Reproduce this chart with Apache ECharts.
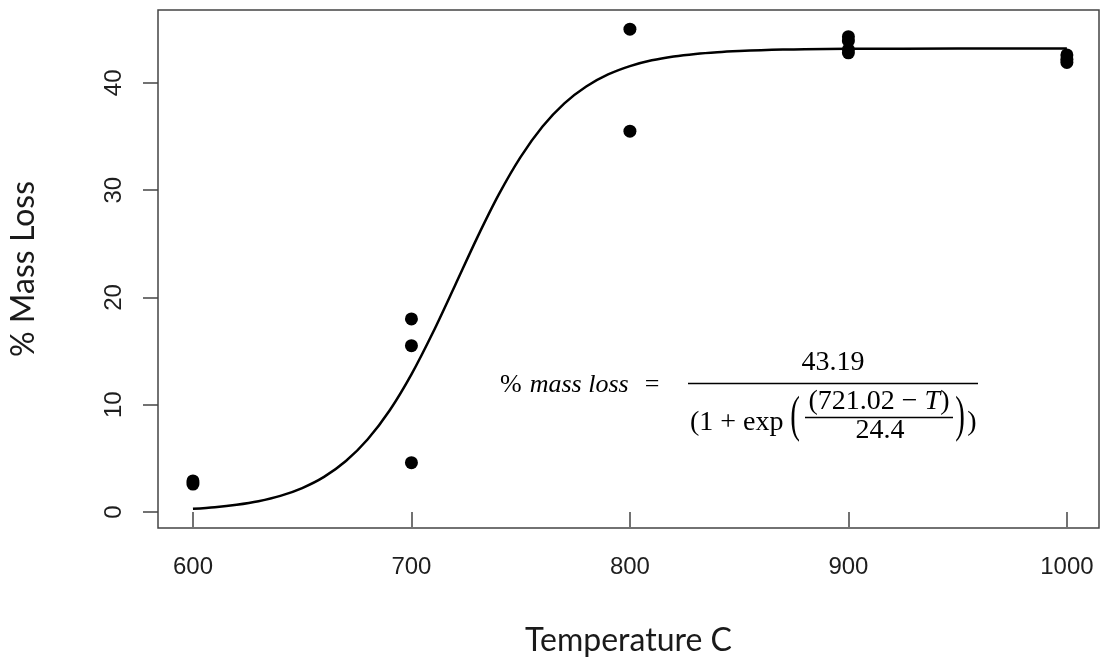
<!DOCTYPE html>
<html>
<head>
<meta charset="utf-8">
<script src="https://cdn.jsdelivr.net/npm/echarts@6/dist/echarts.min.js"></script>
<style>
  html, body { margin: 0; padding: 0; background: #ffffff; }
  #chart { width: 1100px; height: 665px; }
</style>
</head>
<body>
<div id="chart"></div>
<script>
// Measured mass loss (%) of each sample at its calcination temperature (°C)
const sampleTemp = [600, 600, 700, 700, 700, 800, 800, 900, 900, 900, 900, 1000, 1000, 1000];
const sampleLoss = [2.9, 2.6, 18.0, 15.5, 4.6, 45.0, 35.5, 44.3, 43.9, 43.1, 42.8, 42.6, 42.2, 41.9];

// Fitted logistic curve, read at 10 °C steps
const curveTemp = [600, 610, 620, 630, 640, 650, 660, 670, 680, 690, 700, 710, 720, 730, 740,
                   750, 760, 770, 780, 790, 800, 810, 820, 830, 840, 850, 860, 870, 880, 900, 950, 1000];
const curveLoss = [0.30, 0.45, 0.68, 1.01, 1.50, 2.23, 3.27, 4.75, 6.78, 9.46, 12.83, 16.80, 21.14, 25.53, 29.60,
                   33.10, 35.93, 38.09, 39.66, 40.78, 41.56, 42.10, 42.46, 42.70, 42.86, 42.97, 43.05, 43.10, 43.13, 43.17, 43.19, 43.19];

// Tick labels
const xTicks = [600, 700, 800, 900, 1000];
const yTicks = [0, 10, 20, 30, 40];

const samples = sampleTemp.map((t, i) => [t, sampleLoss[i]]);
const curve = curveTemp.map((t, i) => [t, curveLoss[i]]);

const chart = echarts.init(document.getElementById('chart'), null, { renderer: 'canvas' });

const tickFont = { fontFamily: 'Liberation Sans, Arial, sans-serif', fontSize: 24, color: '#1e1e1e' };
const eqFont = 'Liberation Serif, Times New Roman, serif';
const plain = v => String(v);

// Tall, thin parenthesis drawn as a vertically stretched glyph
const bigParen = (ch, x) => ({
  type: 'text', x: x, y: 418, scaleY: 1.75, originX: 0, originY: 0,
  style: { text: ch, fontFamily: eqFont, fontSize: 29, fill: '#000', align: 'center', verticalAlign: 'middle' }
});

chart.setOption({
  animation: false,
  backgroundColor: '#ffffff',
  grid: {
    left: 158, top: 10, right: 1, bottom: 137,
    show: true, borderColor: '#444444', borderWidth: 1.5, backgroundColor: 'transparent'
  },
  xAxis: {
    type: 'value',
    min: 584, max: 1014.7,
    name: 'Temperature C',
    nameLocation: 'middle',
    nameGap: 97,
    nameTextStyle: { fontFamily: 'Lato, Open Sans, sans-serif', fontSize: 32, color: '#1a1a1a' },
    axisLine: { show: false },
    splitLine: { show: false },
    axisTick: { show: true, customValues: xTicks, length: 15, inside: false, lineStyle: { color: '#444444', width: 1.5 } },
    axisLabel: { show: true, customValues: xTicks, formatter: plain, margin: 27, ...tickFont }
  },
  yAxis: {
    type: 'value',
    min: -1.49, max: 46.79,
    name: '% Mass Loss',
    nameLocation: 'middle',
    nameGap: 118,
    nameRotate: 90,
    nameTextStyle: { fontFamily: 'Lato, Open Sans, sans-serif', fontSize: 32, color: '#1a1a1a' },
    axisLine: { show: false },
    splitLine: { show: false },
    axisTick: { show: true, customValues: yTicks, length: 15, inside: false, lineStyle: { color: '#444444', width: 1.5 } },
    axisLabel: { show: true, customValues: yTicks, formatter: plain, rotate: 90, margin: 32, ...tickFont }
  },
  series: [
    {
      name: 'fit',
      type: 'line',
      data: curve,
      smooth: 0.3,
      showSymbol: false,
      symbol: 'none',
      lineStyle: { color: '#000000', width: 2.5 },
      z: 2
    },
    {
      name: 'samples',
      type: 'scatter',
      data: samples,
      symbol: 'circle',
      symbolSize: 13,
      itemStyle: { color: '#000000', opacity: 1 },
      z: 3
    }
  ],
  graphic: [
    {
      type: 'text', x: 500, y: 385,
      style: {
        text: '{p|%}{i|mass loss}{e|=}',
        verticalAlign: 'middle',
        rich: {
          p: { fontFamily: eqFont, fontSize: 26, fill: '#000', padding: [0, 8, 0, 0] },
          i: { fontFamily: eqFont, fontSize: 26, fontStyle: 'italic', fill: '#000', padding: [0, 16, 0, 0] },
          e: { fontFamily: eqFont, fontSize: 26, fill: '#000' }
        }
      }
    },
    {
      type: 'text', x: 833, y: 363,
      style: { text: '43.19', fontFamily: eqFont, fontSize: 28, fill: '#000', align: 'center', verticalAlign: 'middle' }
    },
    { type: 'line', shape: { x1: 688, y1: 383.5, x2: 978, y2: 383.5 }, style: { stroke: '#000', lineWidth: 1.5 } },
    {
      type: 'text', x: 690, y: 423,
      style: { text: '(1 + exp', fontFamily: eqFont, fontSize: 28, fill: '#000', align: 'left', verticalAlign: 'middle' }
    },
    bigParen('(', 795),
    {
      type: 'text', x: 879, y: 402,
      style: {
        text: '(721.02 − {i|T})',
        fontFamily: eqFont, fontSize: 28, fill: '#000', align: 'center', verticalAlign: 'middle',
        rich: { i: { fontFamily: eqFont, fontSize: 28, fontStyle: 'italic', fill: '#000' } }
      }
    },
    { type: 'line', shape: { x1: 805, y1: 417.5, x2: 953, y2: 417.5 }, style: { stroke: '#000', lineWidth: 1.5 } },
    {
      type: 'text', x: 880, y: 431,
      style: { text: '24.4', fontFamily: eqFont, fontSize: 28, fill: '#000', align: 'center', verticalAlign: 'middle' }
    },
    bigParen(')', 960),
    {
      type: 'text', x: 972, y: 423,
      style: { text: ')', fontFamily: eqFont, fontSize: 28, fill: '#000', align: 'center', verticalAlign: 'middle' }
    }
  ]
});
</script>
</body>
</html>
